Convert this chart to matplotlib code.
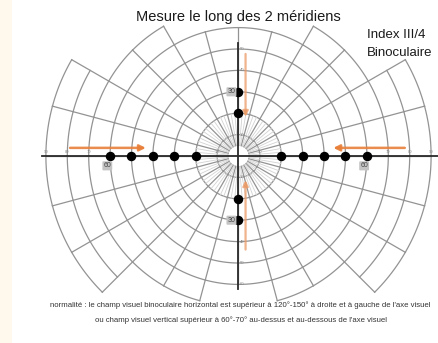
import numpy as np
import matplotlib
matplotlib.use("Agg")
import matplotlib.pyplot as plt
from matplotlib.patches import Rectangle

plt.rcParams["font.family"] = ["Liberation Sans", "DejaVu Sans"]

# ---- data (degrees of visual field) ----
# limit of the grid for each 15° sector, counter-clockwise from the right
sector_reach = [90, 90, 70, 70, 60, 60,    # upper right
                60, 60, 70, 70, 90, 90,    # upper left
                90, 90, 90, 70, 70, 60,    # lower left
                60, 70, 70, 90, 90, 90]    # lower right
ring_radii = [10, 20, 30, 40, 50, 60, 70, 80, 90]

# points seen along the horizontal meridian (left negative)
horiz_points = [-60, -50, -40, -30, -20, 20, 30, 40, 50, 60]
# points seen along the vertical meridian (up positive)
vert_points = [30, 20, -20, -30]

# labelled points
horiz_labels = [(-60, "60"), (60, "60")]
vert_labels = [(30, "30"), (-30, "30")]

# stimulus movement (start, end) in degrees
h_arrows = [(-80, -42), (79, 43)]
v_arrows = [(49, 17), (-45, -10)]

# ---- figure ----
W, H = 439, 343
cx, cy, scale = 238.5, 156.0, 2.14   # centre in pixels, pixels per degree
fig = plt.figure(figsize=(W / 100, H / 100), dpi=100)
fig.patch.set_facecolor("white")
fig.patches.append(Rectangle((0, 0), 12 / W, 1, transform=fig.transFigure,
                             facecolor="#fff8ec", edgecolor="none", zorder=0))
ax = fig.add_axes([0, 0, 1, 1])
ax.set_xlim(-cx / scale, (W - cx) / scale)
ax.set_ylim(-(H - cy) / scale, cy / scale)
ax.axis("off")
ax.patch.set_alpha(0)

grid_col = "#939393"

# rings, drawn sector by sector so they stop at the grid limit
for r in ring_radii:
    for k, reach in enumerate(sector_reach):
        if reach >= r:
            t = np.radians(np.linspace(15 * k, 15 * k + 15, 20))
            ax.plot(r * np.cos(t), r * np.sin(t), color=grid_col, lw=0.9, zorder=1)

# small central ring
t = np.linspace(0, 2 * np.pi, 100)
ax.plot(5 * np.cos(t), 5 * np.sin(t), color="#bdbdbd", lw=0.7, zorder=1)

# radial lines every 15°
for k in range(24):
    a = np.radians(15 * k)
    reach = max(sector_reach[k], sector_reach[k - 1])
    ax.plot([5 * np.cos(a), reach * np.cos(a)], [5 * np.sin(a), reach * np.sin(a)],
            color=grid_col, lw=0.9, zorder=1)

# denser short rays around the centre
for deg in range(0, 360, 5):
    if deg % 15:
        a = np.radians(deg)
        ax.plot([5 * np.cos(a), 20 * np.cos(a)], [5 * np.sin(a), 20 * np.sin(a)],
                color="#d2d2d2", lw=0.6, zorder=1)

# meridian axes
ax.plot([-92, 93], [0, 0], color="#2a2a2a", lw=1.3, zorder=2)
ax.plot([0, 0], [-62, 53], color="#2a2a2a", lw=1.3, zorder=2)

# tiny graduation labels
for v in [10, 70, 80, 90]:
    for s in (-1, 1):
        ax.text(s * v, 0.8, str(v), fontsize=3, color="#888888",
                ha="center", va="bottom", zorder=3)
for v in [10, 40, 50, 60]:
    for s in (-1, 1):
        if s * v == 60:
            continue
        ax.text(0.8, s * v, str(v), fontsize=3, color="#888888",
                ha="left", va="center", zorder=3)

# movement arrows
for x0, x1 in h_arrows:
    ax.annotate("", xy=(x1, 3.8), xytext=(x0, 3.8),
                arrowprops=dict(arrowstyle="-|>", color="#e8803a", lw=1.8,
                                mutation_scale=9, alpha=0.9), zorder=4)
for y0, y1 in v_arrows:
    ax.annotate("", xy=(3.3, y1), xytext=(3.3, y0),
                arrowprops=dict(arrowstyle="-|>", color="#eb9a66", lw=1.6,
                                mutation_scale=8, alpha=0.75), zorder=4)

# seen points
ax.plot(horiz_points, np.zeros(len(horiz_points)), "o", color="black",
        ms=5.8, zorder=5)
ax.plot(np.zeros(len(vert_points)), vert_points, "o", color="black",
        ms=5.8, zorder=5)

box = dict(boxstyle="round,pad=0.15", facecolor="#c4c4c4", edgecolor="none")
for x, lab in horiz_labels:
    ax.text(x - 1.3, -4.6, lab, fontsize=5, color="#444444", ha="center",
            va="center", bbox=box, zorder=6)
for y, lab in vert_labels:
    ax.text(-3.3, y, lab, fontsize=5, color="#444444", ha="center",
            va="center", bbox=box, zorder=6)

# texts
fig.text(238 / W, 1 - 17 / H, "Mesure le long des 2 méridiens", fontsize=10.5,
         ha="center", va="center", color="#1a1a1a")
fig.text(367 / W, 1 - 35 / H, "Index III/4", fontsize=9.5, ha="left",
         va="center", color="#1a1a1a")
fig.text(367 / W, 1 - 53 / H, "Binoculaire", fontsize=9.5, ha="left",
         va="center", color="#1a1a1a")
fig.text(240 / W, 1 - 305 / H,
         "normalité : le champ visuel binoculaire horizontal est supérieur à "
         "120°-150° à droite et à gauche de l'axe visuel",
         fontsize=5.6, ha="center", va="center", color="#333333")
fig.text(241 / W, 1 - 320 / H,
         "ou champ visuel vertical supérieur à 60°-70° au-dessus et "
         "au-dessous de l'axe visuel",
         fontsize=5.6, ha="center", va="center", color="#333333")

fig.savefig("out.png", dpi=100)
plt.close(fig)
